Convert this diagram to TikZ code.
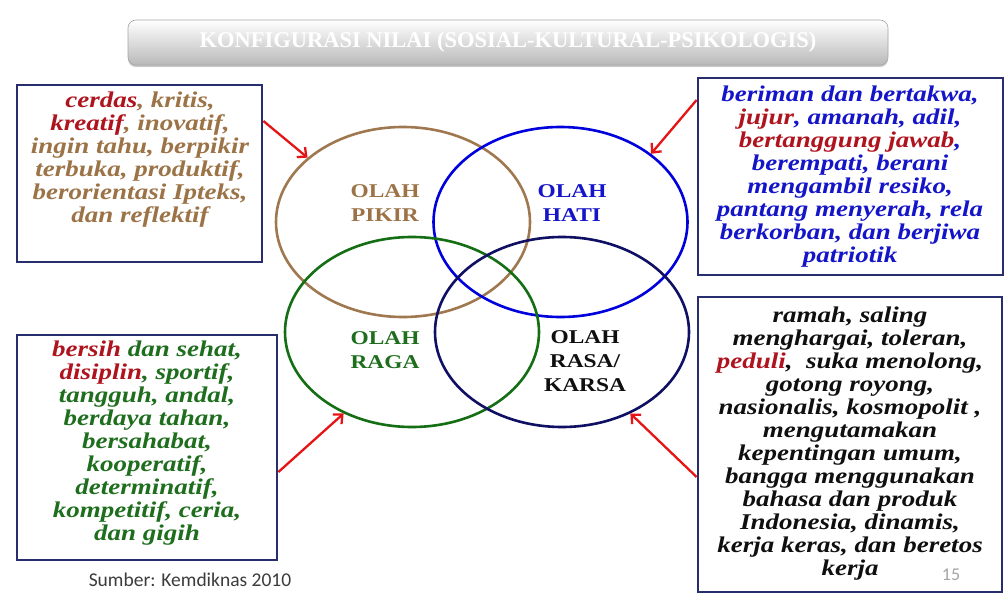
\documentclass[tikz,border=0pt]{standalone}
\usepackage{fontspec}
\usetikzlibrary{shapes.geometric,arrows.meta,shadows}
\newfontfamily\boxf[FakeStretch=1.2]{Liberation Serif}
\newfontfamily\labf[FakeStretch=1.2]{Liberation Serif}
\newfontfamily\titlef{Liberation Serif}
\newfontfamily\calib{Carlito}
\definecolor{cbrown}{RGB}{155,115,70}
\definecolor{cred}{RGB}{175,20,30}
\definecolor{cblue}{RGB}{20,20,200}
\definecolor{cgreen}{RGB}{30,110,30}
\definecolor{cblack}{RGB}{15,15,15}
\definecolor{boxnavy}{RGB}{40,45,110}
\definecolor{ebrown}{RGB}{160,120,80}
\definecolor{eblue}{RGB}{0,0,220}
\definecolor{egreen}{RGB}{20,110,20}
\definecolor{enavy}{RGB}{15,15,100}
\definecolor{arrred}{RGB}{230,20,20}
\definecolor{bargray}{RGB}{185,185,185}
\newcommand{\rd}[1]{\textcolor{cred}{#1}}
\begin{document}
\begin{tikzpicture}[x=1pt,y=-1pt,
  framebox/.style={draw=boxnavy,line width=2.8pt,fill=white,inner sep=0pt},
  boxtext/.style={align=center,inner sep=0pt,font=\boxf\bfseries\itshape\fontsize{22.5}{23}\selectfont},
  venn/.style={ellipse,draw,line width=2.6pt,minimum width=254pt,minimum height=190pt,inner sep=0pt},
  vlabel/.style={align=center,inner sep=0pt,font=\labf\bfseries\fontsize{19.5}{24}\selectfont},
  redarrow/.style={draw=arrred,line width=2.3pt,-{Straight Barb[length=7pt,width=13pt,line width=2.3pt]}},
  titlebar/.style={rounded corners=8pt,minimum width=760pt,minimum height=45pt,top color=white,bottom color=bargray,draw=gray!70,line width=0.6pt,
    drop shadow={shadow xshift=0pt,shadow yshift=-2pt,opacity=0.45},
    text=white,font=\titlef\bfseries\fontsize{22.5}{24}\selectfont}
]
\fill[white] (0,0) rectangle (1006,594);
\useasboundingbox (0,0) rectangle (1006,594);

\node[titlebar] (title) at (508,42.5) {KONFIGURASI NILAI (SOSIAL-KULTURAL-PSIKOLOGIS)};

% ellipses
\node[venn,draw=ebrown] (pikir) at (403,222) {};
\node[venn,draw=eblue] (hati) at (560.5,222) {};
\node[venn,draw=egreen] (raga) at (412,332) {};
\node[venn,draw=enavy] (rasa) at (562,332) {};

\node[vlabel,text=cbrown] (lpikir) at (385,203) {OLAH\\PIKIR};
\node[vlabel,text=cblue] (lhati) at (572,203) {OLAH\\HATI};
\node[vlabel,text=cgreen] (lraga) at (385,350) {OLAH\\RAGA};
\node[vlabel,text=cblack] (lrasa) at (585,361.5) {OLAH\\RASA/\\KARSA};

% boxes
\node[framebox,minimum width=245pt,minimum height=177pt] (tlbox) at (139.5,173.5) {};
\node[framebox,minimum width=305pt,minimum height=197pt] (trbox) at (850.5,176.5) {};
\node[framebox,minimum width=260pt,minimum height=225pt] (blbox) at (147,447.5) {};
\node[framebox,minimum width=304pt,minimum height=295pt] (brbox) at (850,444.5) {};

\node[boxtext,text=cbrown] (tltext) at (140,160) {\rd{cerdas}, kritis,\\\rd{kreatif}, inovatif,\\ingin tahu, berpikir\\terbuka, produktif,\\berorientasi Ipteks,\\dan reflektif};
\node[boxtext,text=cblue] (trtext) at (850,177) {beriman dan bertakwa,\\\rd{jujur}, amanah, adil,\\\rd{bertanggung jawab},\\berempati, berani\\mengambil resiko,\\pantang menyerah, rela\\berkorban, dan berjiwa\\patriotik};
\node[boxtext,text=cgreen] (bltext) at (147,443.5) {\rd{bersih} dan sehat,\\\rd{disiplin}, sportif,\\tangguh, andal,\\berdaya tahan,\\bersahabat,\\kooperatif,\\determinatif,\\kompetitif, ceria,\\dan gigih};
\node[boxtext,text=cblack] (brtext) at (850,443.5) {ramah, saling\\menghargai, toleran,\\\rd{peduli},~ suka menolong,\\gotong royong,\\nasionalis, kosmopolit ,\\mengutamakan\\kepentingan umum,\\bangga menggunakan\\bahasa dan produk\\Indonesia, dinamis,\\kerja keras, dan beretos\\kerja};

% arrows
\draw[redarrow] ([yshift=52.5pt]tlbox.east) -- (pikir.146);
\draw[redarrow] ([yshift=76.5pt]trbox.west) -- (hati.37.5);
\draw[redarrow] ([yshift=-24.5pt]blbox.east) -- (raga.230);
\draw[redarrow] ([yshift=-32.5pt]brbox.west) -- (rasa.310.5);

\node[font=\calib\fontsize{19.5}{21}\selectfont,text={rgb,255:red,60;green,60;blue,60},inner sep=0pt] (source) at (190,580) {Sumber: Kemdiknas 2010};
\node[font=\calib\fontsize{18}{20}\selectfont,text={rgb,255:red,165;green,165;blue,165},inner sep=0pt] (pagenum) at (951,575) {15};
\end{tikzpicture}
\end{document}
